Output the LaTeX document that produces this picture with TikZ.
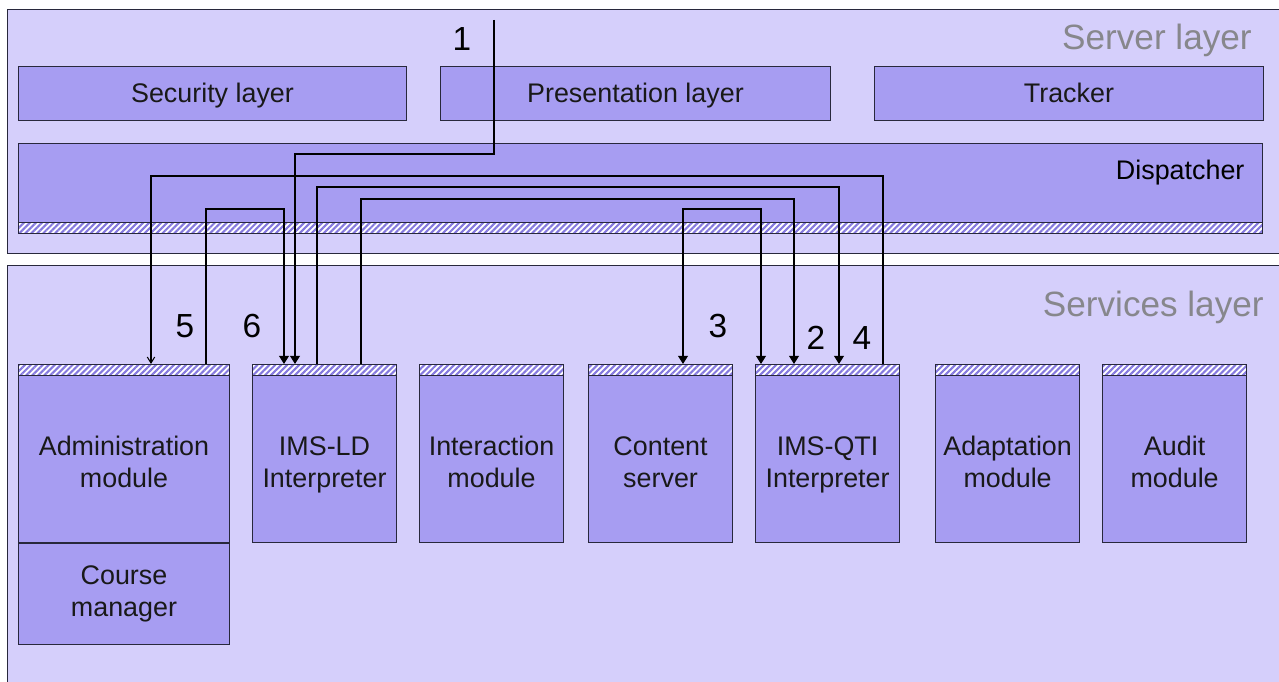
\documentclass[tikz,border=0pt]{standalone}
\usepackage{fontspec}
\setmainfont{Liberation Sans}
\usetikzlibrary{positioning, calc, arrows.meta, patterns.meta}

\definecolor{layerfill}{RGB}{213,207,251}
\definecolor{boxfill}{RGB}{167,157,242}
\definecolor{hatch}{RGB}{132,120,222}
\definecolor{edge}{RGB}{40,40,60}
\definecolor{layertext}{RGB}{135,135,140}

\newcommand{\boxfont}{\fontsize{15.3}{18.1}\selectfont}
\newcommand{\stepfont}{\fontsize{19}{21}\selectfont}
\newcommand{\layerfont}{\fontsize{20}{23}\selectfont}
% two lines of a module name, pushed a little below the centre
\newcommand{\twolines}[2]{\rule{0pt}{25.5pt}#1\\\strut #2}

\begin{document}
\begin{tikzpicture}[x=0.02cm, y=-0.02cm,
    layer/.style={draw=edge, fill=layerfill, line width=0.6pt, anchor=north west, minimum width=25.66cm, inner sep=0},
    part/.style={draw=edge, fill=boxfill, line width=0.6pt, minimum height=1.08cm, minimum width=7.78cm, font=\boxfont, text=black!90},
    bar/.style={part, text height=12pt, text depth=1.8pt},
    hatched/.style={preaction={fill=white}, pattern={Lines[angle=45, distance=2.4pt, line width=1.2pt]}, pattern color=hatch},
    topstrip/.style={path picture={
        \fill[hatched] (path picture bounding box.north west) rectangle ([yshift=-0.22cm]path picture bounding box.north east);
        \draw[edge, line width=0.6pt] ([yshift=-0.22cm]path picture bounding box.north west) -- ([yshift=-0.22cm]path picture bounding box.north east);}},
    bottomstrip/.style={path picture={
        \fill[hatched] (path picture bounding box.south west) rectangle ([yshift=0.22cm]path picture bounding box.south east);
        \draw[edge, line width=0.6pt] ([yshift=0.22cm]path picture bounding box.south west) -- ([yshift=0.22cm]path picture bounding box.south east);}},
    module/.style={part, topstrip, minimum width=2.88cm, minimum height=3.56cm, align=center},
    steplabel/.style={font=\stepfont, inner sep=0},
    layerlabel/.style={font=\layerfont, text=layertext, anchor=base east, inner sep=0},
    flow/.style={draw=black, line width=0.6pt, -{Triangle[length=4.6pt, width=5.6pt]}},
    reply/.style={draw=black, line width=0.6pt, -{Straight Barb[length=3.4pt, width=4.2pt]}}
]
\clip (0,0) rectangle (1279,682);
\fill[white] (0,0) rectangle (1279,682);

% Layers
\node[layer, minimum height=4.88cm] (server) at (7,9) {};
\node[layer, minimum height=8.7cm] (services) at (7,265) {};
\node[layerlabel] (serverlabel) at (1252,50) {Server layer};
\node[layerlabel] (serviceslabel) at (1264,317) {Services layer};

% Server layer parts
\node[bar, anchor=north west, minimum width=7.76cm] (security) at (18,66) {Security layer};
\node[bar, right=0.66cm of security, minimum width=7.8cm] (presentation) {Presentation layer};
\node[bar, right=0.86cm of presentation] (tracker) {Tracker};
\node[part, bottomstrip, anchor=north west, minimum width=24.88cm, minimum height=1.8cm,
      label={[name=dispatchlabel, anchor=east, inner sep=0, font=\boxfont, xshift=-0.36cm, yshift=-0.6cm]north east:Dispatcher}]
      (dispatcher) at (18,143) {};

% Services layer modules
\node[module, anchor=north west, minimum width=4.22cm] (admin) at (18,364) {\twolines{Administration}{module}};
\node[part, anchor=north, minimum width=4.22cm, minimum height=2.02cm, align=center] (course) at (admin.south) {\strut Course\\\strut manager};
\node[module, right=0.44cm of admin] (ld) {\twolines{IMS-LD}{Interpreter}};
\node[module, right=0.44cm of ld] (interaction) {\twolines{Interaction}{module}};
\node[module, right=0.48cm of interaction] (content) {\twolines{Content}{server}};
\node[module, right=0.44cm of content] (qti) {\twolines{IMS-QTI}{Interpreter}};
\node[module, right=0.7cm of qti] (adaptation) {\twolines{Adaptation}{module}};
\node[module, right=0.44cm of adaptation] (audit) {\twolines{Audit}{module}};

% Ports on top of the modules
\coordinate (entry) at (494,20);
\coordinate (admin-a) at (admin.north -| 151,0);
\coordinate (admin-b) at (admin.north -| 206,0);
\coordinate (ld-a) at (ld.north -| 284,0);
\coordinate (ld-b) at (ld.north -| 295,0);
\coordinate (ld-c) at (ld.north -| 317,0);
\coordinate (ld-d) at (ld.north -| 361,0);
\coordinate (content-a) at (content.north -| 683,0);
\coordinate (qti-a) at (qti.north -| 761,0);
\coordinate (qti-b) at (qti.north -| 794,0);
\coordinate (qti-c) at (qti.north -| 839,0);
\coordinate (qti-d) at (qti.north -| 883,0);

% Message flow through the dispatcher
\draw[flow] (entry) -- (entry |- 0,154) -| (ld-b);
\draw[flow] (ld-c) -- (ld-c |- 0,187) -| (qti-c);
\draw[flow] (ld-d) -- (ld-d |- 0,199) -| (qti-b);
\draw[flow, {Triangle[length=4.6pt, width=5.6pt]}-{Triangle[length=4.6pt, width=5.6pt]}] (content-a) -- (content-a |- 0,209) -| (qti-a);
\draw[reply] (qti-d) -- (qti-d |- 0,176) -| (admin-a);
\draw[flow] (admin-b) -- (admin-b |- 0,209) -| (ld-a);

% Step numbers
\node[steplabel] (s1) at (462,39) {1};
\node[steplabel] (s2) at (816,338) {2};
\node[steplabel] (s3) at (718,326) {3};
\node[steplabel] (s4) at (862,338) {4};
\node[steplabel] (s5) at (185,326) {5};
\node[steplabel] (s6) at (252,326) {6};

\end{tikzpicture}
\end{document}
